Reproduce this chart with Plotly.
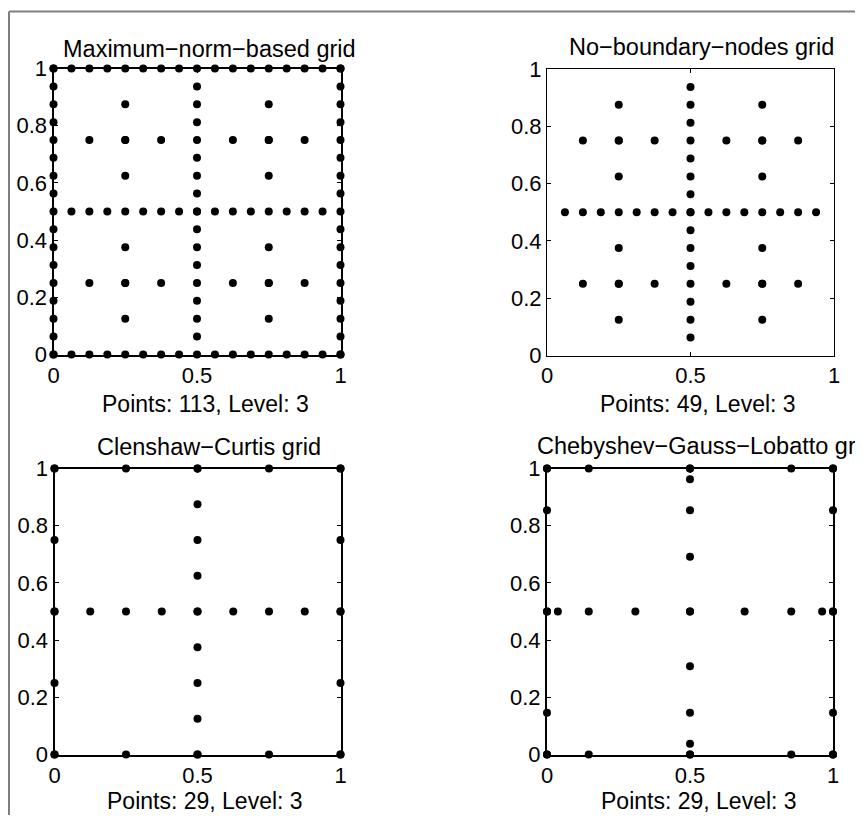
import plotly.graph_objects as go

# The page adds an 8px body margin, so the figure is made 16px smaller
# than the window and every pixel position is shifted by OFF.
WIN_W, WIN_H = 863, 823
OFF = 8
W, H = WIN_W - 2 * OFF, WIN_H - 2 * OFF

# ---------------- data ----------------
titles = ["Maximum−norm−based grid", "No−boundary−nodes grid",
          "Clenshaw−Curtis grid", "Chebyshev−Gauss−Lobatto gr"]
xlabels = ["Points: 113, Level: 3", "Points: 49, Level: 3",
           "Points: 29, Level: 3", "Points: 29, Level: 3"]

# boundary nodes of the maximum-norm-based grid (each edge)
mn_edge = [0, 0.0625, 0.125, 0.1875, 0.25, 0.3125, 0.375, 0.4375, 0.5,
           0.5625, 0.625, 0.6875, 0.75, 0.8125, 0.875, 0.9375, 1]
# interior (no-boundary) nodes: central cross
nb_cross = [0.0625, 0.125, 0.1875, 0.25, 0.3125, 0.375, 0.4375, 0.5,
            0.5625, 0.625, 0.6875, 0.75, 0.8125, 0.875, 0.9375]
# quarter lines
nb_quarter = [0.25, 0.75]
nb_quarter_pts = [0.125, 0.25, 0.375, 0.625, 0.75, 0.875]
# Clenshaw-Curtis
cc_edge = [0, 0.25, 0.5, 0.75, 1]
cc_cross = [0, 0.125, 0.25, 0.375, 0.5, 0.625, 0.75, 0.875, 1]
# Chebyshev-Gauss-Lobatto
cgl_edge = [0, 0.146, 0.5, 0.854, 1]
cgl_cross = [0, 0.038, 0.146, 0.309, 0.5, 0.691, 0.854, 0.962, 1]

ytick_vals = [0, 0.2, 0.4, 0.6, 0.8, 1]
ytick_text = ["0", "0.2", "0.4", "0.6", "0.8", "1"]
xtick_vals = [0, 0.5, 1]
xtick_text = ["0", "0.5", "1"]


def edge_points(vals):
    xs, ys = [], []
    for v in vals:
        xs += [v, v, 0, 1]
        ys += [0, 1, v, v]
    return xs, ys


def cross_points(hvals, vvals):
    xs, ys = [], []
    for v in hvals:
        xs.append(v); ys.append(0.5)
    for v in vvals:
        xs.append(0.5); ys.append(v)
    return xs, ys


def interior_points():
    xs, ys = cross_points(nb_cross, nb_cross)
    for q in nb_quarter:
        for v in nb_quarter_pts:
            xs += [q, v]
            ys += [v, q]
    return xs, ys


grids = []
ix, iy = interior_points()
ex, ey = edge_points(mn_edge)
grids.append((ex + ix, ey + iy))
grids.append((ix, iy))
ex, ey = edge_points(cc_edge)
cx, cy = cross_points(cc_cross, cc_cross)
grids.append((ex + cx, ey + cy))
ex, ey = edge_points(cgl_edge)
cx, cy = cross_points(cgl_cross, cgl_cross)
grids.append((ex + cx, ey + cy))

# ---------------- layout (window-pixel positions) ----------------
boxes = [(53.5, 340.5, 68.5, 354.5), (547, 834, 69, 355.5),
         (54.5, 340.5, 468.5, 754.5), (547, 833, 468.5, 754.5)]
frame_w = [2, 1, 2, 2]
title_cx = [209.5, 701, 209, 696]
title_cy = [49, 47.5, 446.5, 446]
xlab_cx = [205, 698, 205, 698.5]
xlab_cy = [404, 404, 800.5, 800.5]

FONT = "Liberation Sans, Arial, Helvetica, sans-serif"
FS_TICK = 22
FS_TITLE = 23.5
FS_XLAB = 23


def px(x):
    return (x - OFF) / W


def py(y):
    return 1 - (y - OFF) / H


fig = go.Figure()
layout = dict(width=W, height=H, margin=dict(l=0, r=0, t=0, b=0, autoexpand=False),
              paper_bgcolor="white", plot_bgcolor="white", showlegend=False,
              font=dict(family=FONT, size=FS_TICK, color="black"))
annotations = []
for i, ((gx, gy), (x0, x1, y0, y1)) in enumerate(zip(grids, boxes)):
    n = i + 1
    xa = "x" if n == 1 else f"x{n}"
    ya = "y" if n == 1 else f"y{n}"
    fig.add_trace(go.Scatter(x=gx, y=gy, mode="markers", xaxis=xa, yaxis=ya,
                             marker=dict(size=8, color="black"),
                             cliponaxis=False, hoverinfo="x+y"))
    common = dict(range=[0, 1], showgrid=False, zeroline=False, showline=True,
                  linecolor="black", linewidth=frame_w[i], mirror="ticks",
                  ticks="inside", ticklen=4, tickwidth=1, tickcolor="black",
                  tickfont=dict(family=FONT, size=FS_TICK, color="black"),
                  fixedrange=True, automargin=False)
    layout["xaxis" if n == 1 else f"xaxis{n}"] = dict(
        common, domain=[px(x0), px(x1)], anchor=ya,
        tickvals=xtick_vals, ticktext=xtick_text)
    layout["yaxis" if n == 1 else f"yaxis{n}"] = dict(
        common, domain=[py(y1), py(y0)], anchor=xa,
        tickvals=ytick_vals, ticktext=ytick_text)
    annotations.append(dict(text=titles[i], xref="paper", yref="paper",
                            x=px(title_cx[i]), y=py(title_cy[i]),
                            xanchor="center", yanchor="middle", showarrow=False,
                            font=dict(family=FONT, size=FS_TITLE, color="black")))
    annotations.append(dict(text=xlabels[i], xref="paper", yref="paper",
                            x=px(xlab_cx[i]), y=py(xlab_cy[i]),
                            xanchor="center", yanchor="middle", showarrow=False,
                            font=dict(family=FONT, size=FS_XLAB, color="black")))

layout["annotations"] = annotations
layout["shapes"] = [
    dict(type="line", xref="paper", yref="paper", x0=px(9), x1=1,
         y0=py(11.5), y1=py(11.5), line=dict(color="#7f7f7f", width=2)),
    dict(type="line", xref="paper", yref="paper", x0=px(9), x1=px(9),
         y0=0, y1=py(11.5), line=dict(color="#7f7f7f", width=2)),
]
fig.update_layout(**layout)
fig.write_html("out.html")
